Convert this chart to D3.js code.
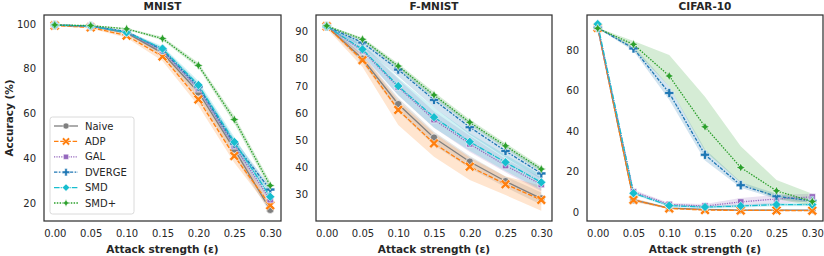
<!DOCTYPE html>
<html><head><meta charset="utf-8">
<script src="https://cdn.jsdelivr.net/npm/d3@7"></script>
<style>body{margin:0;background:#fff}svg{display:block;font-family:"DejaVu Sans",sans-serif}</style>
</head><body><svg id="c" width="824" height="256"></svg>
<script>
// ---------- data ----------
const epsilons = [0, 0.05, 0.10, 0.15, 0.20, 0.25, 0.30];
const xTicks = [0, 0.05, 0.10, 0.15, 0.20, 0.25, 0.30];
const methods = ["Naive", "ADP", "GAL", "DVERGE", "SMD", "SMD+"];
const datasets = ["MNIST", "F-MNIST", "CIFAR-10"];
const yTicksMNIST = [20, 40, 60, 80, 100];
const yTicksFMNIST = [30, 40, 50, 60, 70, 80, 90];
const yTicksCIFAR = [0, 20, 40, 60, 80];

// MNIST: mean, lower CI, upper CI
const mnistNaive   = [99.5, 99.0, 96.0, 87.0, 69.5, 44.0, 17.0];
const mnistNaiveLo = [99.3, 98.7, 95.3, 85.5, 67.0, 41.0, 15.5];
const mnistNaiveHi = [99.6, 99.2, 96.6, 88.3, 71.5, 46.5, 19.0];
const mnistADP     = [99.3, 98.5, 94.8, 85.5, 66.3, 41.0, 19.0];
const mnistADPLo   = [99.1, 98.0, 93.8, 83.5, 63.5, 38.0, 17.0];
const mnistADPHi   = [99.5, 98.9, 95.7, 87.3, 69.0, 44.0, 21.0];
const mnistGAL     = [99.5, 99.1, 96.3, 88.0, 71.0, 45.5, 21.5];
const mnistGALLo   = [99.4, 98.9, 95.8, 87.0, 69.5, 43.5, 19.5];
const mnistGALHi   = [99.6, 99.3, 96.8, 89.0, 72.5, 47.5, 23.5];
const mnistDVERGE  = [99.5, 99.1, 96.6, 88.5, 72.0, 46.5, 26.0];
const mnistDVERGELo= [99.4, 98.9, 96.0, 87.5, 70.5, 44.5, 24.5];
const mnistDVERGEHi= [99.6, 99.3, 97.1, 89.5, 73.5, 48.5, 27.5];
const mnistSMD     = [99.5, 99.1, 96.2, 89.0, 72.7, 47.3, 22.8];
const mnistSMDLo   = [99.3, 98.8, 95.5, 87.5, 70.5, 44.5, 20.5];
const mnistSMDHi   = [99.6, 99.3, 96.8, 90.2, 74.5, 49.5, 25.0];
const mnistSMDp    = [99.6, 99.3, 97.8, 93.5, 81.5, 57.3, 27.8];
const mnistSMDpLo  = [99.5, 99.1, 97.4, 92.7, 80.3, 55.5, 26.0];
const mnistSMDpHi  = [99.7, 99.5, 98.2, 94.3, 82.7, 59.0, 29.5];

// F-MNIST
const fmNaive   = [92.0, 80.0, 63.2, 50.8, 41.9, 34.7, 28.3];
const fmNaiveLo = [91.6, 78.5, 60.5, 48.0, 39.5, 32.5, 26.0];
const fmNaiveHi = [92.4, 81.5, 65.5, 53.0, 44.0, 36.5, 30.5];
const fmADP     = [92.0, 79.5, 61.1, 48.7, 40.1, 33.6, 27.8];
const fmADPLo   = [91.2, 77.0, 55.5, 43.8, 35.2, 29.6, 23.8];
const fmADPHi   = [92.6, 81.5, 64.5, 52.5, 43.5, 36.5, 33.0];
const fmGAL     = [92.0, 83.0, 69.5, 57.5, 48.5, 40.5, 33.5];
const fmGALLo   = [91.6, 81.0, 66.5, 54.5, 45.5, 38.0, 31.0];
const fmGALHi   = [92.4, 85.0, 72.5, 60.5, 51.5, 43.0, 36.0];
const fmDVERGE  = [92.0, 86.0, 76.0, 64.8, 54.7, 45.9, 37.6];
const fmDVERGELo= [91.7, 84.5, 73.5, 62.0, 52.0, 43.5, 35.5];
const fmDVERGEHi= [92.3, 87.0, 77.5, 66.5, 56.5, 47.5, 39.5];
const fmSMD     = [92.0, 83.5, 69.9, 58.4, 49.3, 41.7, 34.3];
const fmSMDLo   = [91.6, 81.5, 66.5, 54.5, 46.0, 38.5, 31.5];
const fmSMDHi   = [92.4, 85.5, 73.0, 62.0, 52.5, 44.5, 37.0];
const fmSMDp    = [92.2, 87.2, 77.3, 66.6, 56.5, 47.8, 39.2];
const fmSMDpLo  = [92.0, 86.5, 76.3, 65.5, 55.5, 46.8, 38.2];
const fmSMDpHi  = [92.4, 87.9, 78.3, 67.7, 57.5, 48.8, 40.2];

// CIFAR-10
const cfNaive   = [91.0, 6.0, 2.0, 1.3, 1.0, 1.0, 1.0];
const cfNaiveLo = [90.7, 5.3, 1.6, 1.0, 0.7, 0.7, 0.7];
const cfNaiveHi = [91.3, 6.7, 2.4, 1.6, 1.3, 1.3, 1.3];
const cfADP     = [91.0, 6.0, 1.8, 1.0, 0.8, 0.8, 0.7];
const cfADPLo   = [90.6, 5.0, 1.4, 0.7, 0.5, 0.5, 0.4];
const cfADPHi   = [91.4, 7.0, 2.2, 1.3, 1.1, 1.1, 1.0];
const cfGAL     = [91.2, 10.0, 3.8, 3.0, 5.0, 6.5, 7.5];
const cfGALLo   = [90.8, 9.0, 3.0, 2.0, 3.0, 4.0, 5.5];
const cfGALHi   = [91.6, 11.0, 4.5, 4.0, 7.0, 8.5, 9.0];
const cfDVERGE  = [91.0, 80.8, 58.8, 28.3, 13.3, 7.8, 5.5];
const cfDVERGELo= [90.7, 79.5, 55.5, 25.5, 12.0, 6.5, 4.5];
const cfDVERGEHi= [91.3, 82.0, 62.0, 31.0, 14.8, 9.0, 6.5];
const cfSMD     = [92.8, 9.3, 3.2, 2.5, 3.0, 3.7, 3.7];
const cfSMDLo   = [92.4, 8.5, 2.5, 1.8, 2.2, 2.9, 2.9];
const cfSMDHi   = [93.2, 10.1, 3.9, 3.2, 3.8, 4.5, 4.5];
const cfSMDp    = [90.7, 82.8, 67.2, 42.1, 22.0, 10.5, 5.2];
const cfSMDpLo  = [90.5, 80.5, 62.0, 30.0, 14.5, 6.5, 3.0];
const cfSMDpHi  = [91.0, 84.5, 77.5, 57.0, 32.5, 15.8, 9.0];

// ---------- assembly ----------
const colors = {"Naive":"#7f7f7f","ADP":"#ff7f0e","GAL":"#9467bd","DVERGE":"#1f77b4","SMD":"#17becf","SMD+":"#2ca02c"};
const dashes = {"Naive":null,"ADP":"4.5,1.7","GAL":"1.2,1.2","DVERGE":"3.4,1.4,1.7,1.4","SMD":"5.6,1.1,1.1,1.1","SMD+":"1.5,1.3"};

const panelSeries = [
  {Naive:[mnistNaive,mnistNaiveLo,mnistNaiveHi],ADP:[mnistADP,mnistADPLo,mnistADPHi],GAL:[mnistGAL,mnistGALLo,mnistGALHi],
   DVERGE:[mnistDVERGE,mnistDVERGELo,mnistDVERGEHi],SMD:[mnistSMD,mnistSMDLo,mnistSMDHi],"SMD+":[mnistSMDp,mnistSMDpLo,mnistSMDpHi]},
  {Naive:[fmNaive,fmNaiveLo,fmNaiveHi],ADP:[fmADP,fmADPLo,fmADPHi],GAL:[fmGAL,fmGALLo,fmGALHi],
   DVERGE:[fmDVERGE,fmDVERGELo,fmDVERGEHi],SMD:[fmSMD,fmSMDLo,fmSMDHi],"SMD+":[fmSMDp,fmSMDpLo,fmSMDpHi]},
  {Naive:[cfNaive,cfNaiveLo,cfNaiveHi],ADP:[cfADP,cfADPLo,cfADPHi],GAL:[cfGAL,cfGALLo,cfGALHi],
   DVERGE:[cfDVERGE,cfDVERGELo,cfDVERGEHi],SMD:[cfSMD,cfSMDLo,cfSMDHi],"SMD+":[cfSMDp,cfSMDpLo,cfSMDpHi]}
];
const yTickSets = [yTicksMNIST, yTicksFMNIST, yTicksCIFAR];
const yDomains = [[11.96, 104.02],[20.0, 96.2],[-4.4, 97.3]];
const panels = [{x:44,w:237},{x:316,w:236},{x:587,w:236}];
const plotTop = 15, plotBottom = 221;

// marker paths
function poly(pts){return "M"+pts.map(p=>p[0].toFixed(2)+","+p[1].toFixed(2)).join("L")+"Z";}
function plusPts(s,t){return [[-t,-s],[t,-s],[t,-t],[s,-t],[s,t],[t,t],[t,s],[-t,s],[-t,t],[-s,t],[-s,-t],[-t,-t]];}
function rot(pts,a){const c=Math.cos(a),s=Math.sin(a);return pts.map(p=>[p[0]*c-p[1]*s,p[0]*s+p[1]*c]);}
const markers = {
  "Naive": ()=>d3.symbol(d3.symbolCircle, 44)(),
  "ADP": ()=>poly(rot(plusPts(5.6,1.45),Math.PI/4)),
  "GAL": ()=>poly([[-3.2,-3.2],[3.2,-3.2],[3.2,3.2],[-3.2,3.2]]),
  "DVERGE": ()=>poly(plusPts(4.6,1.5)),
  "SMD": ()=>poly([[0,-4.6],[4.6,0],[0,4.6],[-4.6,0]]),
  "SMD+": ()=>{const s=4.6,r=1.5;return poly([[0,-s],[r,-r],[s,0],[r,r],[0,s],[-r,r],[-s,0],[-r,-r]]);}
};

const svg = d3.select("#c");
const txt = "#262626";

panels.forEach((p,i)=>{
  const x = d3.scaleLinear().domain([-0.015,0.315]).range([p.x, p.x+p.w]);
  const y = d3.scaleLinear().domain(yDomains[i]).range([plotBottom, plotTop]);
  const g = svg.append("g");
  const clipId = "clip"+i;
  svg.append("clipPath").attr("id",clipId).append("rect").attr("x",p.x).attr("y",plotTop).attr("width",p.w).attr("height",plotBottom-plotTop);
  const plot = g.append("g").attr("clip-path",`url(#${clipId})`);
  const series = panelSeries[i];
  methods.forEach(m=>{
    const [mean,lo,hi] = series[m];
    const area = d3.area().x((d,k)=>x(epsilons[k])).y0((d,k)=>y(lo[k])).y1((d,k)=>y(hi[k]));
    plot.append("path").attr("d",area(mean)).attr("fill",colors[m]).attr("fill-opacity",0.2).attr("stroke","none");
  });
  methods.forEach(m=>{
    const mean = series[m][0];
    const line = d3.line().x((d,k)=>x(epsilons[k])).y(d=>y(d));
    plot.append("path").attr("d",line(mean)).attr("fill","none").attr("stroke",colors[m])
      .attr("stroke-width",1.3).attr("stroke-dasharray",dashes[m]);
    plot.selectAll(null).data(mean).enter().append("path")
      .attr("transform",(d,k)=>`translate(${x(epsilons[k])},${y(d)})`)
      .attr("d",markers[m]()).attr("fill",colors[m]).attr("stroke","#fff").attr("stroke-width",0.6);
  });
  g.append("rect").attr("x",p.x).attr("y",plotTop).attr("width",p.w).attr("height",plotBottom-plotTop)
    .attr("fill","none").attr("stroke","#333").attr("stroke-width",1.25);
  const xa = g.append("g").attr("transform",`translate(0,${plotBottom})`)
    .call(d3.axisBottom(x).tickValues(xTicks).tickFormat(d3.format(".2f")).tickSize(0).tickPadding(9));
  xa.select(".domain").remove();
  xa.selectAll("text").attr("fill",txt).attr("font-size",10).attr("font-family","DejaVu Sans");
  const ya = g.append("g").attr("transform",`translate(${p.x},0)`)
    .call(d3.axisLeft(y).tickValues(yTickSets[i]).tickSize(0).tickPadding(8));
  ya.select(".domain").remove();
  ya.selectAll("text").attr("fill",txt).attr("font-size",10).attr("font-family","DejaVu Sans");
  g.append("text").attr("x",p.x+p.w/2).attr("y",10).attr("text-anchor","middle")
    .attr("font-weight","bold").attr("font-size",10.5).attr("fill",txt).text(datasets[i]);
  g.append("text").attr("x",p.x+p.w/2).attr("y",253).attr("text-anchor","middle")
    .attr("font-weight","bold").attr("font-size",10.5).attr("fill",txt).text("Attack strength (ε)");
});

svg.append("text").attr("transform","translate(13,118) rotate(-90)").attr("text-anchor","middle")
  .attr("font-weight","bold").attr("font-size",10.5).attr("fill",txt).text("Accuracy (%)");

const lg = svg.append("g");
lg.append("rect").attr("x",50).attr("y",117).attr("width",84).attr("height",97).attr("rx",2.5)
  .attr("fill","#fff").attr("fill-opacity",0.85).attr("stroke","#d0d0d0").attr("stroke-width",0.8);
methods.forEach((m,k)=>{
  const yy = 126 + k*15.4;
  lg.append("line").attr("x1",54).attr("x2",78).attr("y1",yy).attr("y2",yy).attr("stroke",colors[m])
    .attr("stroke-width",1.3).attr("stroke-dasharray",dashes[m]);
  lg.append("path").attr("transform",`translate(66,${yy}) scale(0.8)`).attr("d",markers[m]())
    .attr("fill",colors[m]).attr("stroke","#fff").attr("stroke-width",0.6);
  lg.append("text").attr("x",85).attr("y",yy).attr("dy","0.35em").attr("font-size",10).attr("fill",txt).text(m);
});
</script></body></html>
